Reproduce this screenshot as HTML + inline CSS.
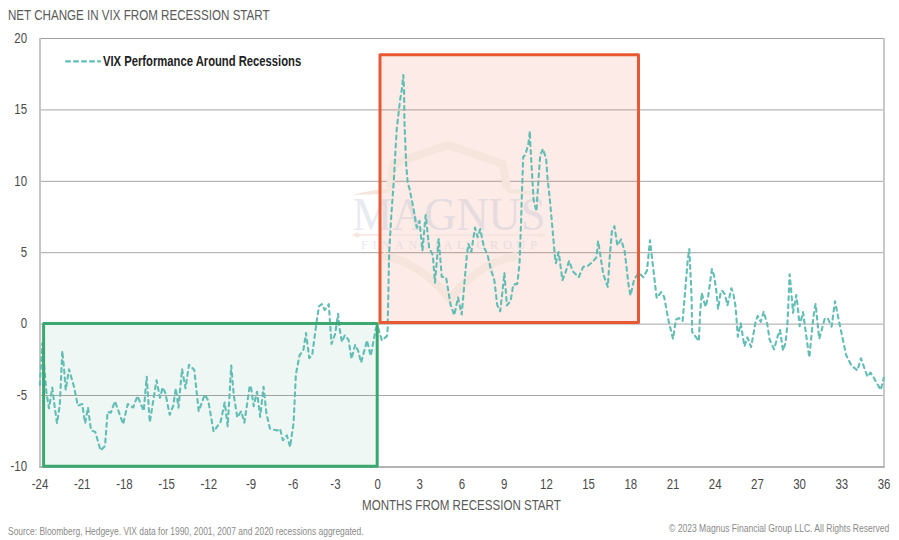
<!DOCTYPE html>
<html><head><meta charset="utf-8"><style>
html,body{margin:0;padding:0;background:#fff;}
body{width:899px;height:540px;position:relative;overflow:hidden;font-family:"Liberation Sans", sans-serif;}
</style></head><body>
<svg width="899" height="540" viewBox="0 0 899 540" style="position:absolute;left:0;top:0;font-family:'Liberation Sans', sans-serif">
<text transform="translate(8.00 20.00) scale(0.800 1)" text-anchor="start" font-size="14.50" fill="#5a5a5a" font-weight="normal" >NET CHANGE IN VIX FROM RECESSION START</text>
<line x1="40" y1="109.9" x2="884" y2="109.9" stroke="#a6a6a6" stroke-width="1"/>
<line x1="40" y1="181.3" x2="884" y2="181.3" stroke="#a6a6a6" stroke-width="1"/>
<line x1="40" y1="252.7" x2="884" y2="252.7" stroke="#a6a6a6" stroke-width="1"/>
<line x1="40" y1="324.1" x2="884" y2="324.1" stroke="#a6a6a6" stroke-width="1"/>
<line x1="40" y1="395.5" x2="884" y2="395.5" stroke="#a6a6a6" stroke-width="1"/>
<line x1="39" y1="38.5" x2="884.5" y2="38.5" stroke="#9f9f9f" stroke-width="1.2"/>
<line x1="40" y1="38" x2="40" y2="467" stroke="#c4c4c4" stroke-width="2"/>
<line x1="884" y1="38" x2="884" y2="467" stroke="#c8c8c8" stroke-width="2"/>
<line x1="39.2" y1="466.9" x2="884.8" y2="466.9" stroke="#b4b4b4" stroke-width="2"/>
<rect x="43.6" y="323.6" width="333.6" height="142.7" fill="#3aa870" fill-opacity="0.086"/>
<rect x="380" y="54.8" width="258.5" height="267.7" fill="#ea5733" fill-opacity="0.12"/>
<g>
<path d="M390 188 L393 164 L448 145 L503 164 L507 188" fill="none" stroke="#f6e5dc" stroke-width="8" stroke-linejoin="miter"/>
<path d="M352 195 Q370 190 393 188 L390 193 Q372 195 352 195 Z" fill="#f6e5dc"/>
<path d="M546 195 Q528 190 505 188 L508 193 Q526 195 546 195 Z" fill="#f6e5dc"/>
<path d="M383 256 Q420 262 450 299 Q480 262 517 256" fill="none" stroke="#f6e5dc" stroke-width="8"/>
<text x="449" y="229.7" text-anchor="middle" font-family="'Liberation Serif', serif" font-size="46" fill="#b9bfd6" opacity="0.32" textLength="193" lengthAdjust="spacingAndGlyphs">MAGNUS</text>
<path d="M352 235 L357 232.5 L362 235 L357 237.5 Z M536 235 L541 232.5 L546 235 L541 237.5 Z" fill="#f6e5dc"/>
<line x1="360" y1="235" x2="538" y2="235" stroke="#f6e5dc" stroke-width="1.5"/>
<text x="449" y="248.6" text-anchor="middle" font-family="'Liberation Serif', serif" font-size="12.5" fill="#b9bfd6" opacity="0.33" textLength="176" lengthAdjust="spacing">FINANCIAL GROUP</text>
</g>
<path d="M39.8 385.0 L42.3 343.3 L46.5 393.3 L49.0 408.3 L52.3 387.5 L54.0 401.7 L57.0 423.3 L59.8 405.0 L62.3 350.8 L64.0 368.3 L65.7 390.0 L69.0 369.2 L74.0 386.7 L77.8 405.7 L82.2 404.0 L85.1 423.3 L88.0 407.5 L91.0 430.3 L95.3 432.0 L100.6 450.5 L105.0 446.0 L107.6 411.8 L110.8 412.7 L115.0 401.3 L123.1 424.1 L127.8 404.0 L133.1 407.5 L137.5 396.0 L143.7 411.0 L146.7 376.7 L149.8 422.4 L156.5 380.2 L160.0 397.8 L162.6 387.5 L165.3 392.8 L169.7 414.8 L173.2 406.0 L175.8 388.4 L178.5 407.7 L182.0 369.0 L185.5 388.4 L189.0 364.7 L194.3 370.0 L198.7 411.2 L204.8 394.5 L208.3 400.7 L213.6 431.5 L220.6 421.8 L224.7 402.5 L227.7 426.2 L231.2 365.5 L233.8 395.4 L237.3 417.4 L241.2 411.2 L244.4 422.7 L249.6 386.6 L250.8 385.8 L253.7 406.2 L257.0 391.7 L260.2 416.9 L263.5 386.8 L266.4 413.0 L269.9 428.6 L277.1 430.5 L280.0 428.6 L282.9 440.3 L286.8 435.4 L290.1 447.0 L293.6 422.8 L295.9 374.2 L299.6 355.2 L303.3 350.7 L306.0 333.0 L309.3 358.1 L312.2 355.2 L315.9 327.0 L318.9 306.3 L321.9 304.1 L324.8 310.0 L328.8 304.1 L331.5 344.0 L335.2 333.7 L338.1 313.7 L339.6 328.5 L341.9 341.9 L344.8 335.2 L348.5 339.6 L351.5 358.9 L355.2 344.8 L358.1 350.7 L361.1 362.6 L367.0 340.4 L370.7 355.9 L375.9 328.5 L377.4 325.6 L381.9 340.4 L387.0 335.9 L387.6 330.0 L389.1 255.0 L391.3 215.0 L393.6 183.9 L396.7 129.4 L400.0 100.6 L402.2 87.2 L403.3 75.0 L404.0 87.2 L404.4 120.6 L406.2 165.0 L407.8 183.9 L409.1 186.9 L413.6 209.0 L415.8 222.4 L416.8 227.6 L419.5 220.9 L422.4 250.6 L425.7 215.0 L429.1 247.6 L432.8 255.0 L435.0 282.6 L438.7 238.7 L441.7 276.7 L446.1 277.4 L450.6 304.8 L454.3 315.2 L458.0 297.4 L461.7 314.4 L466.9 255.0 L468.4 243.9 L471.3 252.0 L475.0 227.6 L477.6 237.2 L480.2 229.1 L483.9 246.9 L487.6 255.0 L490.6 268.3 L494.3 280.2 L497.3 305.4 L500.2 311.3 L502.4 292.0 L504.4 272.8 L506.9 305.4 L510.6 300.9 L513.3 284.6 L517.3 283.9 L519.5 263.9 L521.0 224.6 L521.7 200.0 L523.2 157.0 L525.4 154.8 L528.4 143.7 L529.9 131.1 L530.1 139.3 L531.3 161.5 L533.6 200.0 L536.5 211.3 L537.3 197.0 L540.2 155.6 L542.9 148.9 L546.1 158.5 L547.6 179.3 L549.9 200.0 L552.1 224.6 L555.0 257.2 L555.8 263.1 L558.7 252.0 L562.4 280.2 L565.4 272.8 L569.1 260.9 L572.8 271.3 L578.7 277.2 L583.2 266.9 L587.6 266.1 L592.8 261.7 L596.5 257.2 L598.1 240.9 L599.6 250.6 L603.3 274.3 L607.8 287.0 L610.0 253.5 L611.9 231.3 L614.4 226.1 L617.4 245.4 L621.1 239.4 L624.8 252.0 L628.5 284.6 L630.5 295.5 L634.4 278.7 L638.9 272.8 L643.3 277.2 L647.0 270.6 L650.0 240.2 L651.5 253.5 L656.7 298.1 L661.1 292.2 L664.1 296.7 L668.5 320.4 L673.0 338.9 L675.9 319.6 L678.9 318.1 L682.6 321.1 L684.8 295.2 L687.8 259.4 L689.3 249.1 L691.5 295.0 L692.2 332.2 L698.9 341.1 L700.0 314.3 L701.8 292.8 L703.0 298.0 L705.6 306.9 L708.1 296.5 L710.4 280.2 L711.9 269.1 L714.1 275.7 L716.3 290.6 L718.1 309.1 L720.7 292.0 L722.2 290.6 L725.2 295.0 L727.4 305.4 L728.9 299.4 L731.4 288.3 L733.3 293.5 L735.6 306.9 L737.8 336.7 L740.7 323.3 L744.4 346.3 L747.4 337.4 L751.1 347.0 L755.6 321.9 L757.8 315.9 L760.7 321.9 L763.7 311.5 L767.4 324.8 L769.6 339.6 L774.1 349.3 L777.8 335.9 L780.0 330.0 L783.0 350.7 L785.6 342.6 L787.4 324.8 L788.9 292.0 L789.6 274.3 L791.1 289.1 L793.0 312.8 L796.3 295.0 L797.8 306.9 L799.6 326.1 L803.0 312.0 L805.2 327.8 L807.4 344.1 L809.3 357.4 L811.1 339.6 L813.3 317.4 L815.6 303.9 L818.5 332.2 L819.3 338.9 L824.8 318.5 L827.9 318.5 L831.6 326.7 L835.0 301.2 L840.1 326.7 L846.2 355.2 L851.3 365.4 L857.4 370.5 L860.9 358.3 L866.0 372.6 L867.5 376.7 L870.5 372.6 L872.6 375.6 L880.7 389.9 L883.8 377.7" fill="none" stroke="#62bdb5" stroke-width="2.1" stroke-dasharray="3.9 4.1" stroke-linecap="round" stroke-linejoin="round"/>
<rect x="43.6" y="323.6" width="333.6" height="142.7" fill="none" stroke="#3aa870" stroke-width="3" stroke-linejoin="round"/>
<rect x="380" y="54.8" width="258.5" height="267.7" fill="none" stroke="#ea5733" stroke-width="3" stroke-linejoin="round"/>
<line x1="66.1" y1="61.3" x2="100" y2="61.3" stroke="#60beb7" stroke-width="2.3" stroke-dasharray="3.9 4.1" stroke-linecap="round"/>
<text transform="translate(103.00 66.00) scale(0.810 1)" text-anchor="start" font-size="13.90" fill="#222222" font-weight="bold" >VIX Performance Around Recessions</text>
<text transform="translate(27.00 42.80) scale(0.790 1)" text-anchor="end" font-size="14.50" fill="#4a4a4a" font-weight="normal" >20</text>
<text transform="translate(27.00 114.20) scale(0.790 1)" text-anchor="end" font-size="14.50" fill="#4a4a4a" font-weight="normal" >15</text>
<text transform="translate(27.00 185.60) scale(0.790 1)" text-anchor="end" font-size="14.50" fill="#4a4a4a" font-weight="normal" >10</text>
<text transform="translate(27.00 257.00) scale(0.790 1)" text-anchor="end" font-size="14.50" fill="#4a4a4a" font-weight="normal" >5</text>
<text transform="translate(27.00 328.40) scale(0.790 1)" text-anchor="end" font-size="14.50" fill="#4a4a4a" font-weight="normal" >0</text>
<text transform="translate(27.00 399.80) scale(0.790 1)" text-anchor="end" font-size="14.50" fill="#4a4a4a" font-weight="normal" >-5</text>
<text transform="translate(27.00 471.20) scale(0.790 1)" text-anchor="end" font-size="14.50" fill="#4a4a4a" font-weight="normal" >-10</text>
<text transform="translate(40.00 489.00) scale(0.790 1)" text-anchor="middle" font-size="14.50" fill="#4a4a4a" font-weight="normal" >-24</text>
<text transform="translate(82.20 489.00) scale(0.790 1)" text-anchor="middle" font-size="14.50" fill="#4a4a4a" font-weight="normal" >-21</text>
<text transform="translate(124.40 489.00) scale(0.790 1)" text-anchor="middle" font-size="14.50" fill="#4a4a4a" font-weight="normal" >-18</text>
<text transform="translate(166.60 489.00) scale(0.790 1)" text-anchor="middle" font-size="14.50" fill="#4a4a4a" font-weight="normal" >-15</text>
<text transform="translate(208.80 489.00) scale(0.790 1)" text-anchor="middle" font-size="14.50" fill="#4a4a4a" font-weight="normal" >-12</text>
<text transform="translate(251.00 489.00) scale(0.790 1)" text-anchor="middle" font-size="14.50" fill="#4a4a4a" font-weight="normal" >-9</text>
<text transform="translate(293.20 489.00) scale(0.790 1)" text-anchor="middle" font-size="14.50" fill="#4a4a4a" font-weight="normal" >-6</text>
<text transform="translate(335.40 489.00) scale(0.790 1)" text-anchor="middle" font-size="14.50" fill="#4a4a4a" font-weight="normal" >-3</text>
<text transform="translate(377.60 489.00) scale(0.790 1)" text-anchor="middle" font-size="14.50" fill="#4a4a4a" font-weight="normal" >0</text>
<text transform="translate(419.80 489.00) scale(0.790 1)" text-anchor="middle" font-size="14.50" fill="#4a4a4a" font-weight="normal" >3</text>
<text transform="translate(462.00 489.00) scale(0.790 1)" text-anchor="middle" font-size="14.50" fill="#4a4a4a" font-weight="normal" >6</text>
<text transform="translate(504.20 489.00) scale(0.790 1)" text-anchor="middle" font-size="14.50" fill="#4a4a4a" font-weight="normal" >9</text>
<text transform="translate(546.40 489.00) scale(0.790 1)" text-anchor="middle" font-size="14.50" fill="#4a4a4a" font-weight="normal" >12</text>
<text transform="translate(588.60 489.00) scale(0.790 1)" text-anchor="middle" font-size="14.50" fill="#4a4a4a" font-weight="normal" >15</text>
<text transform="translate(630.80 489.00) scale(0.790 1)" text-anchor="middle" font-size="14.50" fill="#4a4a4a" font-weight="normal" >18</text>
<text transform="translate(673.00 489.00) scale(0.790 1)" text-anchor="middle" font-size="14.50" fill="#4a4a4a" font-weight="normal" >21</text>
<text transform="translate(715.20 489.00) scale(0.790 1)" text-anchor="middle" font-size="14.50" fill="#4a4a4a" font-weight="normal" >24</text>
<text transform="translate(757.40 489.00) scale(0.790 1)" text-anchor="middle" font-size="14.50" fill="#4a4a4a" font-weight="normal" >27</text>
<text transform="translate(799.60 489.00) scale(0.790 1)" text-anchor="middle" font-size="14.50" fill="#4a4a4a" font-weight="normal" >30</text>
<text transform="translate(841.80 489.00) scale(0.790 1)" text-anchor="middle" font-size="14.50" fill="#4a4a4a" font-weight="normal" >33</text>
<text transform="translate(884.00 489.00) scale(0.790 1)" text-anchor="middle" font-size="14.50" fill="#4a4a4a" font-weight="normal" >36</text>
<text transform="translate(362.00 510.00) scale(0.816 1)" text-anchor="start" font-size="14.20" fill="#5a5a5a" font-weight="normal" >MONTHS FROM RECESSION START</text>
<text transform="translate(8.00 534.70) scale(0.790 1)" text-anchor="start" font-size="10.70" fill="#8a8a8a" font-weight="normal" >Source: Bloomberg, Hedgeye. VIX data for 1990, 2001, 2007 and 2020 recessions aggregated.</text>
<text transform="translate(669.00 531.70) scale(0.799 1)" text-anchor="start" font-size="10.70" fill="#8a8a8a" font-weight="normal" >&#169; 2023 Magnus Financial Group LLC. All Rights Reserved</text>
</svg>
</body></html>
